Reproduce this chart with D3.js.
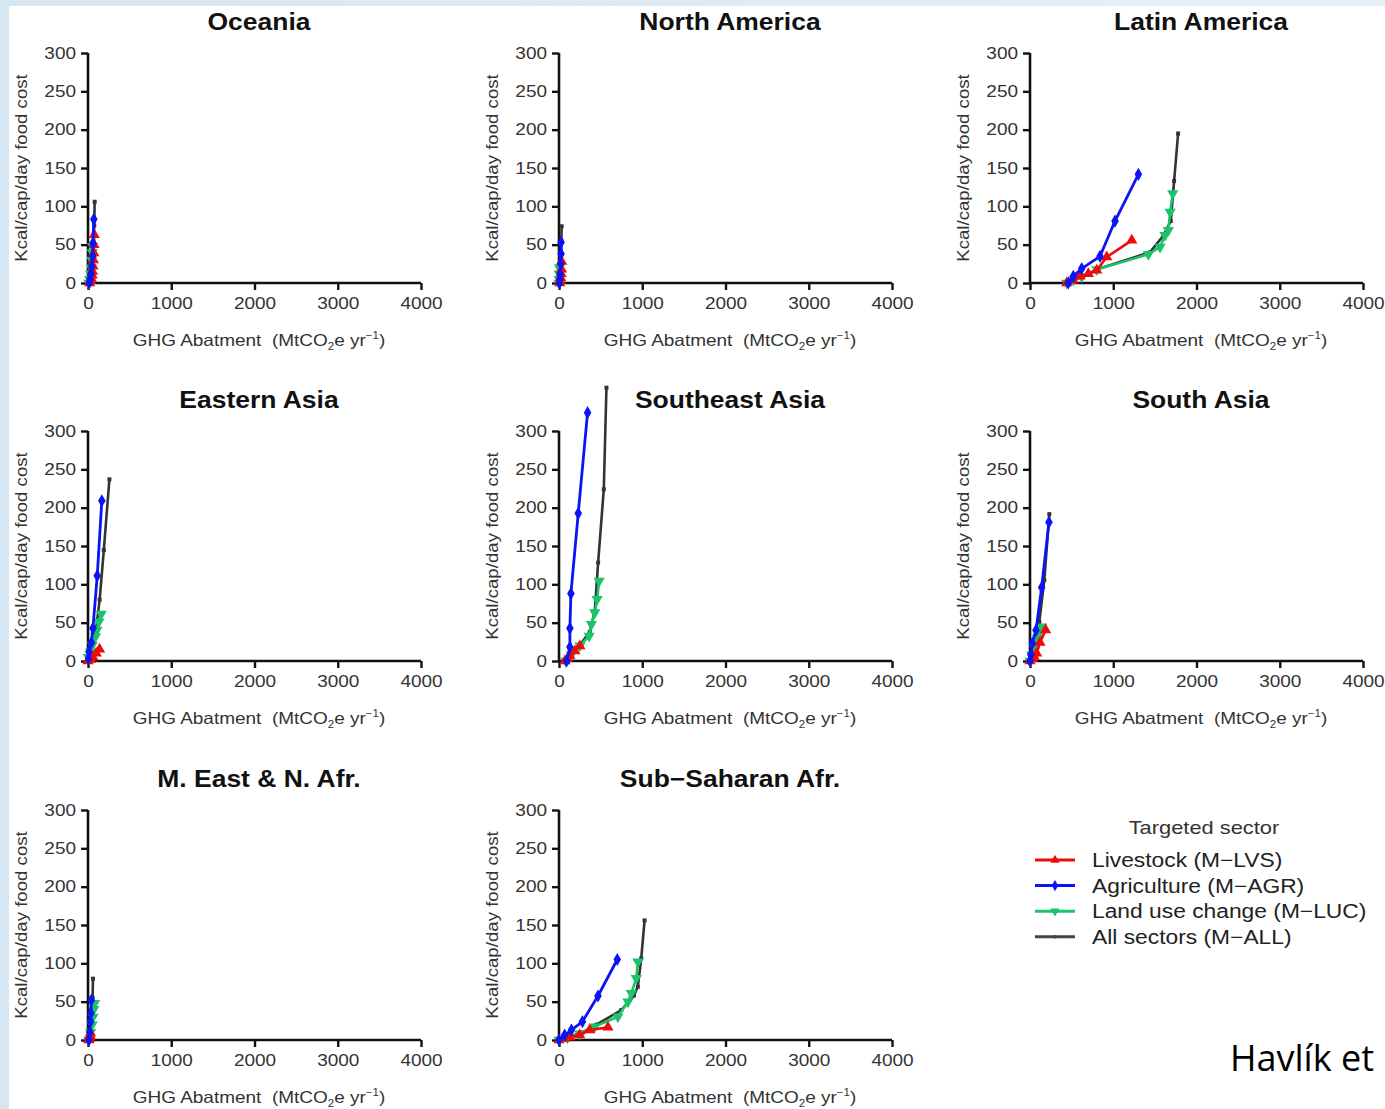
<!DOCTYPE html>
<html><head><meta charset="utf-8">
<script src="https://cdn.jsdelivr.net/npm/d3@7"></script>
<style>
html,body{margin:0;padding:0;}
body{width:1385px;height:1109px;overflow:hidden;background:linear-gradient(90deg,#d6e6f2 0%,#e6f0f7 100%);}
svg{display:block;}
</style></head>
<body>
<svg id="chart" width="1385" height="1109"></svg>
<script>
// ---- data ----
const regions = ["Oceania","North America","Latin America","Eastern Asia","Southeast Asia","South Asia","M. East & N. Afr.","Sub\u2212Saharan Afr."];
const xTicks = [0,1000,2000,3000,4000];
const yTicks = [0,50,100,150,200,250,300];
const sectorNames = ["Livestock (M\u2212LVS)","Agriculture (M\u2212AGR)","Land use change (M\u2212LUC)","All sectors (M\u2212ALL)"];

// [GHG abatement, food cost] per region
const livestock = {
  "Oceania": [[20,0],[30,3],[40,6],[50,10],[55,15],[60,22],[65,30],[70,39],[72,50],[75,63]],
  "North America": [[10,0],[15,3],[20,7],[25,12],[30,18],[32,28]],
  "Latin America": [[441,0],[520,3.5],[601,8.7],[700,12],[802,16.5],[922,33.9],[1222,55.7]],
  "Eastern Asia": [[0,0],[30,2],[60,5],[99,10],[139,15.3]],
  "Southeast Asia": [[72,0],[100,3],[131,6.5],[191,13],[251,19.6]],
  "South Asia": [[0,0],[30,3],[50,6],[80,10],[120,24],[188,40.4]],
  "M. East & N. Afr.": [[10,0],[15,2],[20,4],[25,6],[30,9]],
  "Sub\u2212Saharan Afr.": [[0,0],[60,2],[130,4],[248,6.5],[368,13],[588,16.5]]
};
const agriculture = {
  "Oceania": [[15,0],[25,5],[35,12],[45,22],[55,35],[60,52],[70,83]],
  "North America": [[5,0],[10,5],[15,12],[20,25],[25,38],[25,53]],
  "Latin America": [[460,0],[520,8.7],[621,18.8],[841,34.8],[1021,80.8],[1302,141.7]],
  "Eastern Asia": [[5,3],[12,12],[40,23.9],[59,42.6],[111,111.2],[166,209]],
  "Southeast Asia": [[92,0],[131,18.3],[131,42.6],[143,87.9],[231,192.6],[343,323.9]],
  "South Asia": [[0,0],[10,8],[28,23],[72,40],[140,96],[228,181]],
  "M. East & N. Afr.": [[10,0],[20,10],[30,24],[35,35],[40,52]],
  "Sub\u2212Saharan Afr.": [[0,0],[68,6.5],[149,13],[281,23.9],[468,57.4],[700,105]]
};
const landUse = {
  "Oceania": [[10,0],[20,5],[30,12],[40,20],[45,30],[50,40],[55,48]],
  "North America": [[0,0],[2,5],[3,12],[5,20]],
  "Latin America": [[441,0],[520,4],[620,8],[802,17.5],[1422,37.4],[1562,47],[1622,62.2],[1662,68.7],[1683,92.6],[1715,116.6]],
  "Eastern Asia": [[5,5],[30,12],[52,20.9],[90,32],[107,40.4],[131,51.3],[159,61.3]],
  "Southeast Asia": [[80,0],[150,8],[251,20],[362,32.6],[390,47.8],[430,63.1],[458,80.4],[482,104.3]],
  "South Asia": [[0,0],[20,8],[50,18],[90,30],[115,38],[140,44.7]],
  "M. East & N. Afr.": [[10,0],[30,10],[50,20],[60,30],[70,40],[80,48]],
  "Sub\u2212Saharan Afr.": [[0,0],[100,3],[250,8],[428,17.4],[707,30.4],[828,50],[868,60.9],[928,80.4],[947,102]]
};
const allSectors = {
  "Oceania": [[15,0],[30,8],[45,20],[55,35],[65,52],[75,75],[80,106]],
  "North America": [[5,0],[12,8],[18,18],[25,35],[28,55],[32,74]],
  "Latin America": [[441,0],[530,4],[640,9],[810,18],[1440,40],[1603,62],[1691,80.8],[1731,133],[1779,195]],
  "Eastern Asia": [[0,0],[30,8],[60,20],[95,40],[140,80],[190,144.7],[257,237]],
  "Southeast Asia": [[72,0],[150,8],[260,22],[370,38],[430,65],[470,128.3],[538,223.9],[570,356.5]],
  "South Asia": [[0,0],[25,8],[60,20],[112,51],[172,105.6],[232,191.6]],
  "M. East & N. Afr.": [[10,0],[25,10],[40,25],[50,40],[55,55],[60,80]],
  "Sub\u2212Saharan Afr.": [[0,0],[120,4],[280,10],[450,20],[748,39],[900,58],[947,69.5],[988,106.5],[1028,156]]
};

// ---- styles ----
const sectors = [
  {data: allSectors, color:"#333333", sym: "square", size: 16, lw: 2.6},
  {data: landUse, color:"#19c46a", sym: "tdown", size: 55, lw: 2.6},
  {data: livestock, color:"#f00a0a", sym: "tup", size: 55, lw: 2.6},
  {data: agriculture, color:"#0a14f5", sym: "diamond", size: 50, lw: 2.8}
];
const legendStyle = [
  {color:"#f00a0a", sym:"tup"},
  {color:"#0a14f5", sym:"diamond"},
  {color:"#19c46a", sym:"tdown"},
  {color:"#444444", sym:"square"}
];

const FONT = "'Liberation Sans', Arial, Helvetica, sans-serif";
const STRETCH = 1.15;
const svg = d3.select("#chart");
svg.append("rect").attr("x",9).attr("y",6).attr("width",1385).attr("height",1109).attr("fill","#ffffff");

function stretch(sel,k){
  sel.each(function(){
    const L = this.getComputedTextLength();
    d3.select(this).attr("textLength", L*k).attr("lengthAdjust","spacingAndGlyphs");
  });
}
function symPath(sym,size){
  if(sym==="square") return d3.symbol(d3.symbolSquare,size)();
  if(sym==="diamond") return d3.symbol(d3.symbolDiamond,size)();
  return d3.symbol(d3.symbolTriangle,size)();
}

const colX = [88, 559, 1030];
const rowY = [283, 661, 1040];
const W = 333, H = 230;

regions.forEach((r,i)=>{
  const col = i%3, row = Math.floor(i/3);
  const x0 = colX[col], y0 = rowY[row];
  const g = svg.append("g").attr("transform",`translate(${x0},${y0-H})`);
  const x = d3.scaleLinear().domain([0,4000]).range([0,W]);
  const y = d3.scaleLinear().domain([0,300]).range([H,0]);

  // title
  const t = g.append("text").attr("x",171).attr("y",-23).attr("text-anchor","middle")
    .attr("font-family",FONT).attr("font-weight","bold").attr("font-size",23).attr("fill","#111")
    .text(r);
  stretch(t, STRETCH);

  // axes
  const xa = g.append("g").attr("transform",`translate(0,${H})`)
    .call(d3.axisBottom(x).tickValues(xTicks).tickSize(7).tickPadding(3).tickFormat(d3.format("d")));
  const ya = g.append("g")
    .call(d3.axisLeft(y).tickValues(yTicks).tickSize(7).tickPadding(5).tickFormat(d3.format("d")));
  [xa,ya].forEach(a=>{
    a.select(".domain").attr("stroke","#111").attr("stroke-width",2.6);
    a.selectAll(".tick line").attr("stroke","#111").attr("stroke-width",2.4);
    a.selectAll(".tick text").attr("font-family",FONT).attr("font-size",16.5).attr("fill","#333");
    stretch(a.selectAll(".tick text"), STRETCH);
  });
  xa.select(".domain").attr("d",`M0,0H${W}`);
  ya.select(".domain").attr("d",`M0,0V${H}`);
  xa.selectAll(".tick text").attr("dy","0.95em");

  // axis labels
  const yl = g.append("text").attr("transform",`translate(-61,${H/2}) rotate(-90)`).attr("text-anchor","middle")
    .attr("font-family",FONT).attr("font-size",16.5).attr("fill","#333").text("Kcal/cap/day food cost");
  stretch(yl, 1.13);
  const xl = g.append("text").attr("x",171).attr("y",H+63).attr("text-anchor","middle")
    .attr("font-family",FONT).attr("font-size",16.5).attr("fill","#333");
  xl.append("tspan").text("GHG Abatment\u00a0\u00a0(MtCO");
  xl.append("tspan").attr("font-size",10).attr("dy",4).text("2");
  xl.append("tspan").attr("dy",-4).text("e yr");
  xl.append("tspan").attr("font-size",10).attr("dy",-7).text("\u22121");
  xl.append("tspan").attr("dy",7).text(")");
  stretch(xl, 1.15);

  // series
  const line = d3.line().x(d=>x(d[0])).y(d=>y(d[1]));
  sectors.forEach(s=>{
    const pts = s.data[r];
    g.append("path").datum(pts).attr("d",line).attr("fill","none")
      .attr("stroke",s.color).attr("stroke-width",s.lw).attr("stroke-linejoin","round");
    g.selectAll(null).data(pts).enter().append("path")
      .attr("d",symPath(s.sym,s.size))
      .attr("transform",d=>`translate(${x(d[0])},${y(d[1])})${s.sym==="tdown"?" rotate(180)":""}`)
      .attr("fill",s.color);
  });
});

// legend
const lg = svg.append("g");
const lt = lg.append("text").attr("x",1204).attr("y",834).attr("text-anchor","middle")
  .attr("font-family",FONT).attr("font-size",19).attr("fill","#333").text("Targeted sector");
stretch(lt, 1.15);
sectorNames.forEach((n,i)=>{
  const yy = 860 + i*25.6;
  const st = legendStyle[i];
  lg.append("line").attr("x1",1035).attr("x2",1075).attr("y1",yy).attr("y2",yy)
    .attr("stroke",st.color).attr("stroke-width",3);
  lg.append("path").attr("d",symPath(st.sym, st.sym==="square"?10:36))
    .attr("transform",`translate(1055,${yy})${st.sym==="tdown"?" rotate(180)":""}`).attr("fill",st.color);
  const tx = lg.append("text").attr("x",1092).attr("y",yy+7).attr("font-family",FONT).attr("font-size",20)
    .attr("fill","#222").text(n);
  stretch(tx, 1.14);
});

// citation (visible part)
svg.append("text").attr("x",1230).attr("y",1071).attr("font-family","'Open Sans', 'Noto Sans', sans-serif")
  .attr("font-size",36).attr("fill","#000").text("Havlík et");
</script>
</body></html>
